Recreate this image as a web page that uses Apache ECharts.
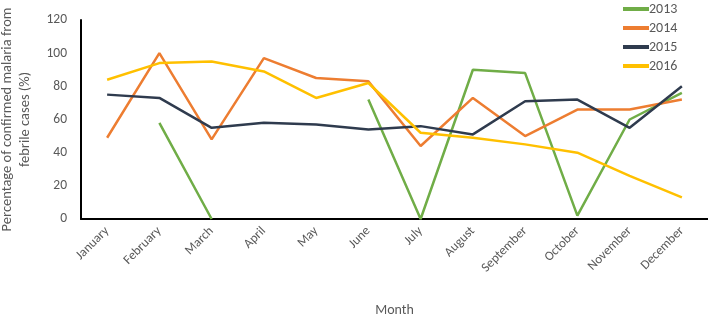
<!DOCTYPE html>
<html>
<head>
<meta charset="utf-8">
<script src="https://cdn.jsdelivr.net/npm/echarts@6/dist/echarts.min.js"></script>
<style>
  html, body { margin: 0; padding: 0; background: #fff; }
  #chart { width: 708px; height: 316px; }
</style>
</head>
<body>
<div id="chart"></div>
<script>
const months = ['January', 'February', 'March', 'April', 'May', 'June', 'July', 'August', 'September', 'October', 'November', 'December']
const y2013 = [null, 58, 0, null, null, 72, 0, 90, 88, 2, 60, 76]
const y2014 = [49, 100, 48, 97, 85, 83, 44, 73, 50, 66, 66, 72]
const y2015 = [75, 73, 55, 58, 57, 54, 56, 51, 71, 72, 55, 80]
const y2016 = [84, 94, 95, 89, 73, 82, 52, 49, 45, 40, 26, 13]

const font = 'Calibri, Carlito, Lato, "Open Sans", sans-serif'

function line(name, data, color) {
  return {
    name,
    type: 'line',
    data,
    symbol: 'none',
    connectNulls: false,
    lineStyle: { color, width: 2.5 },
    itemStyle: { color },
  }
}

const chart = echarts.init(document.getElementById('chart'))
chart.setOption({
  animation: false,
  backgroundColor: '#fff',
  textStyle: { fontFamily: font },
  grid: { left: 81, right: 0, top: 20, bottom: 97, outerBoundsMode: 'none', containLabel: false },
  legend: {
    orient: 'vertical',
    left: 618,
    top: -3,
    itemWidth: 26,
    itemHeight: 4,
    itemGap: 5,
    icon: 'rect',
    textStyle: { color: '#595959', fontSize: 14, padding: [0, 0, 0, -5] },
    data: ['2013', '2014', '2015', '2016'],
  },
  xAxis: {
    type: 'category',
    data: months,
    name: 'Month',
    nameLocation: 'middle',
    nameGap: 84,
    nameTextStyle: { color: '#595959', fontSize: 14 },
    axisLine: { lineStyle: { color: '#000', width: 2 } },
    axisTick: { show: false },
    axisLabel: { color: '#595959', fontSize: 13, rotate: 45, margin: 10 },
    splitLine: { show: false },
  },
  yAxis: {
    type: 'value',
    min: 0,
    max: 120,
    interval: 20,
    name: 'Percentage of confirmed malaria from\nfebrile cases (%)',
    nameLocation: 'middle',
    nameGap: 47,
    nameTextStyle: { color: '#595959', fontSize: 14.5, lineHeight: 18 },
    axisLine: { show: true, lineStyle: { color: '#000', width: 2 } },
    axisTick: { show: false },
    axisLabel: { color: '#595959', fontSize: 13.5, margin: 14 },
    splitLine: { show: false },
  },
  series: [
    line('2013', y2013, '#70AD47'),
    line('2014', y2014, '#ED7D31'),
    line('2015', y2015, '#2F3B4E'),
    line('2016', y2016, '#FFC000'),
  ],
})
</script>
</body>
</html>
